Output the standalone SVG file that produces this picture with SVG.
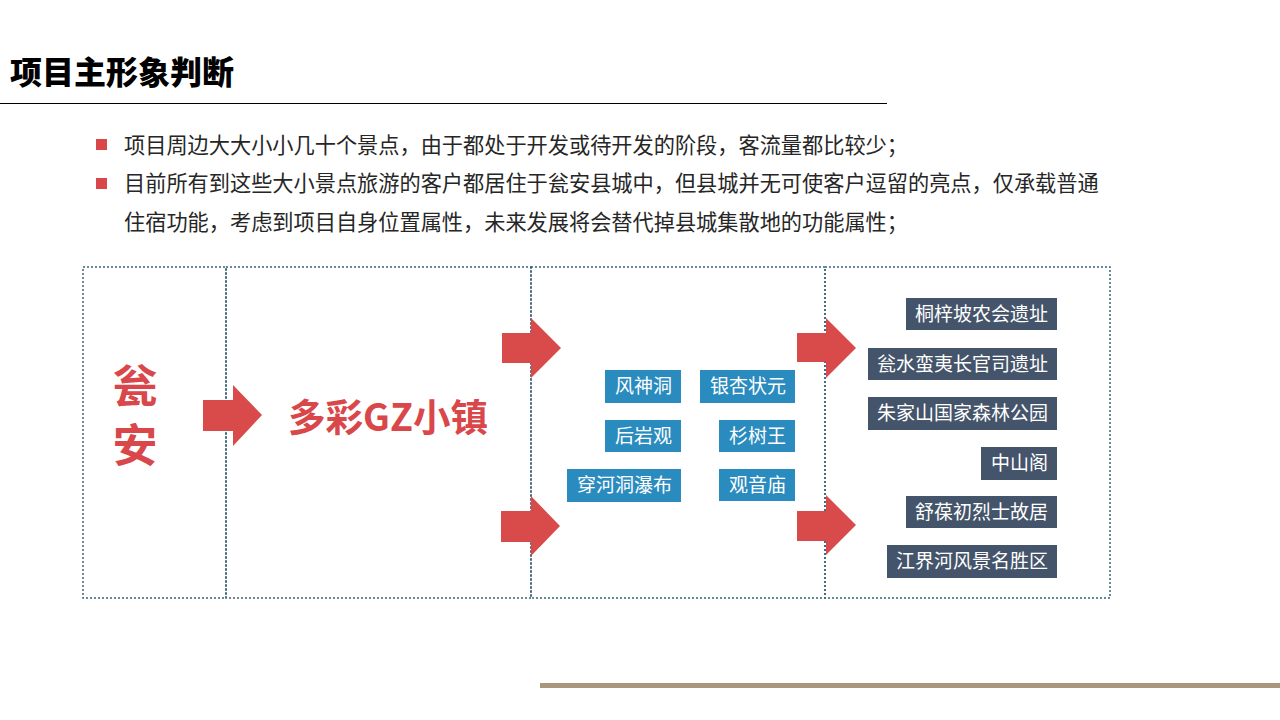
<svg xmlns="http://www.w3.org/2000/svg" width="1280" height="720" viewBox="0 0 1280 720">
<style>
.cjk{font-family:"Noto Sans CJK SC","Noto Sans",sans-serif}
.title{font-size:32px;font-weight:900;fill:#000}
.body{font-size:21.2px;fill:#262626}
.red{fill:#D9474A;font-weight:700}
.box{fill:none;stroke:#3A6478;stroke-width:1.5;stroke-dasharray:2 2}
.arrow{fill:#D94A4A}
.blue{fill:#2A8BBF}
.dark{fill:#44546A}
.lbl{font-size:19px;fill:#fff;text-anchor:end}
</style>
<rect width="1280" height="720" fill="#fff"/>
<text class="cjk title" x="10" y="84">项目主形象判断</text>
<line x1="0" y1="103.5" x2="887" y2="103.5" stroke="#000" stroke-width="1.2"/>
<rect x="96" y="139" width="11" height="11" fill="#D9474A"/>
<rect x="96" y="178" width="11" height="11" fill="#D9474A"/>
<text class="cjk body" x="124" y="153">项目周边大大小小几十个景点，由于都处于开发或待开发的阶段，客流量都比较少；</text>
<text class="cjk body" x="124" y="191">目前所有到这些大小景点旅游的客户都居住于瓮安县城中，但县城并无可使客户逗留的亮点，仅承载普通</text>
<text class="cjk body" x="124" y="230">住宿功能，考虑到项目自身位置属性，未来发展将会替代掉县城集散地的功能属性；</text>

<g id="panel-wengan">
<rect class="box" x="83" y="267" width="143" height="331"/>
<text class="cjk red" x="135" y="403" font-size="45" text-anchor="middle">瓮</text>
<text class="cjk red" x="135" y="462" font-size="45" text-anchor="middle">安</text>
</g>
<g id="panel-town">
<rect class="box" x="226" y="267" width="305" height="331"/>
<text class="cjk red" x="388" y="431" font-size="37.5" text-anchor="middle">多彩GZ小镇</text>
</g>
<g id="panel-spots">
<rect class="box" x="531" y="267" width="294" height="331"/>
<rect class="blue" x="605" y="370" width="76" height="33"/><text class="cjk lbl" x="672" y="393">风神洞</text>
<rect class="blue" x="700" y="370" width="95" height="33"/><text class="cjk lbl" x="786" y="393">银杏状元</text>
<rect class="blue" x="605" y="420" width="76" height="32"/><text class="cjk lbl" x="672" y="443">后岩观</text>
<rect class="blue" x="719" y="420" width="76" height="32"/><text class="cjk lbl" x="786" y="443">杉树王</text>
<rect class="blue" x="567" y="469" width="114" height="33"/><text class="cjk lbl" x="672" y="492">穿河洞瀑布</text>
<rect class="blue" x="719" y="469" width="76" height="32"/><text class="cjk lbl" x="786" y="492">观音庙</text>
</g>
<g id="panel-sites">
<rect class="box" x="825" y="267" width="285" height="331"/>
<rect class="dark" x="906" y="298" width="151" height="32"/><text class="cjk lbl" x="1048" y="321">桐梓坡农会遗址</text>
<rect class="dark" x="868" y="348" width="189" height="32"/><text class="cjk lbl" x="1048" y="371">瓮水蛮夷长官司遗址</text>
<rect class="dark" x="868" y="397" width="189" height="33"/><text class="cjk lbl" x="1048" y="420">朱家山国家森林公园</text>
<rect class="dark" x="981" y="447" width="76" height="33"/><text class="cjk lbl" x="1048" y="470">中山阁</text>
<rect class="dark" x="906" y="496" width="151" height="32"/><text class="cjk lbl" x="1048" y="519">舒葆初烈士故居</text>
<rect class="dark" x="887" y="545" width="170" height="33"/><text class="cjk lbl" x="1048" y="568">江界河风景名胜区</text>
</g>
<g id="connectors">
<polygon class="arrow" points="203,400 233,400 233,385 262,415 233,446 233,431 203,431"/>
<polygon class="arrow" points="502,333 531,333 531,318 561,348 531,378 531,363 502,363"/>
<polygon class="arrow" points="501,511 531,511 531,496 560,526 531,556 531,542 501,542"/>
<polygon class="arrow" points="797,333 826,333 826,318 856,348 826,378 826,362 797,362"/>
<polygon class="arrow" points="797,511 826,511 826,495 856,525 826,555 826,541 797,541"/>
</g>
<rect x="540" y="683" width="740" height="5" fill="#A8977B"/>
</svg>
